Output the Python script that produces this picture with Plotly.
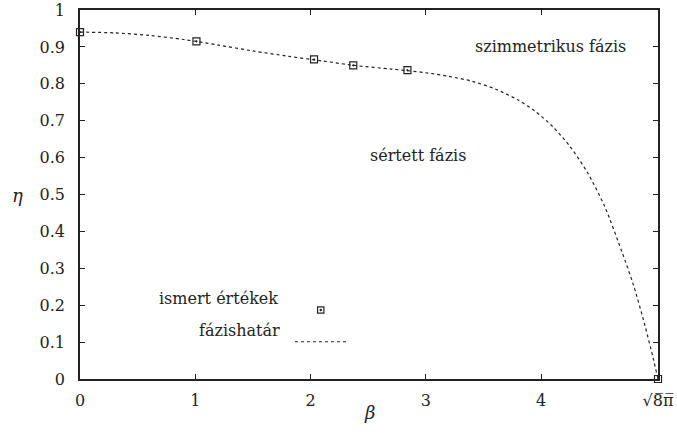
import plotly.graph_objects as go
import math

# known values (ismert értékek)
known_beta = [0.0, 1.01, 2.03, 2.37, 2.84, math.sqrt(8 * math.pi)]
known_eta = [0.940, 0.915, 0.866, 0.850, 0.837, 0.0]

# phase boundary (fázishatár)
curve_beta = [0.0, 0.3, 0.6, 0.9, 1.2, 1.5, 1.8, 2.1, 2.4, 2.7, 3.0, 3.2, 3.4, 3.6,
              3.8, 3.95, 4.1, 4.25, 4.4, 4.55, 4.7, 4.8, 4.9, 4.97, math.sqrt(8 * math.pi)]
curve_eta = [0.940, 0.938, 0.931, 0.920, 0.905, 0.889, 0.875, 0.862, 0.849, 0.840, 0.830,
             0.820, 0.807, 0.786, 0.756, 0.725, 0.684, 0.630, 0.560, 0.468, 0.345, 0.255,
             0.145, 0.058, 0.0]

x_tickvals = [0, 1, 2, 3, 4, math.sqrt(8 * math.pi)]
x_ticktext = ["0", "1", "2", "3", "4", "√8̅π̅"]
y_tickvals = [i / 10 for i in range(11)]
y_ticktext = ["0", "0.1", "0.2", "0.3", "0.4", "0.5", "0.6", "0.7", "0.8", "0.9", "1"]

FONT = "DejaVu Serif"
INK = "#222222"
FS = 16

fig = go.Figure()
fig.add_trace(go.Scatter(x=curve_beta, y=curve_eta, mode="lines",
                         line=dict(color=INK, width=1.2, dash="dot", shape="spline", smoothing=0.8),
                         showlegend=False, hoverinfo="skip"))
fig.add_trace(go.Scatter(x=known_beta, y=known_eta, mode="markers",
                         marker=dict(symbol="square-open-dot", size=7, color=INK,
                                     line=dict(width=1.2, color=INK)),
                         showlegend=False, cliponaxis=False))

axis_common = dict(showgrid=False, zeroline=False, showline=True, linecolor=INK,
                   linewidth=1.5, mirror="ticks", ticks="inside", ticklen=5,
                   tickcolor=INK, tickwidth=1, automargin=False, ticklabeloverflow="allow",
                   tickfont=dict(family=FONT, size=FS))

fig.update_xaxes(range=[0, math.sqrt(8 * math.pi)], tickmode="array",
                 tickvals=x_tickvals, ticktext=x_ticktext, ticklabelstandoff=6, **axis_common)
fig.update_yaxes(range=[0, 1], tickmode="array", tickvals=y_tickvals,
                 ticktext=y_ticktext, ticklabelstandoff=10, **axis_common)

ann_font = dict(family=FONT, size=FS)
annotations = [
    dict(x=4.084, y=0.90, xref="x", yref="y", text="szimmetrikus fázis",
         showarrow=False, font=ann_font),
    dict(x=2.934, y=0.607, xref="x", yref="y", text="sértett fázis",
         showarrow=False, font=ann_font),
    dict(x=0.346, y=0.187, xref="paper", yref="paper", text="ismert értékek",
         showarrow=False, xanchor="right", font=ann_font),
    dict(x=0.349, y=0.101, xref="paper", yref="paper", text="fázishatár",
         showarrow=False, xanchor="right", font=ann_font),
    dict(x=-0.121, y=0.496, xref="paper", yref="paper", text="<i>η</i>",
         showarrow=False, font=dict(family=FONT, size=18)),
    dict(x=0.5, y=-0.125, xref="paper", yref="paper", text="<i>β</i>",
         showarrow=False, font=dict(family=FONT, size=18)),
]

shapes = [
    dict(type="line", xref="paper", yref="paper", x0=0.372, x1=0.461, y0=0.101, y1=0.101,
         line=dict(color=INK, width=1.2, dash="dot")),
    dict(type="rect", xref="paper", yref="paper", x0=0.4165 - 0.0055, x1=0.4165 + 0.0055,
         y0=0.187 - 0.0086, y1=0.187 + 0.0086, line=dict(color=INK, width=1.2)),
    dict(type="rect", xref="paper", yref="paper", x0=0.4165 - 0.0012, x1=0.4165 + 0.0012,
         y0=0.187 - 0.002, y1=0.187 + 0.002, line=dict(color=INK, width=1), fillcolor=INK),
]

fig.update_layout(width=677, height=440, margin=dict(l=80, r=19, t=10, b=61),
                  plot_bgcolor="white", paper_bgcolor="white",
                  font=dict(family=FONT, size=FS, color=INK),
                  annotations=annotations, shapes=shapes, showlegend=False)

fig.write_html("out.html", config={"displayModeBar": False},
               post_script="document.body.style.margin='0';document.body.style.overflow='hidden';")
